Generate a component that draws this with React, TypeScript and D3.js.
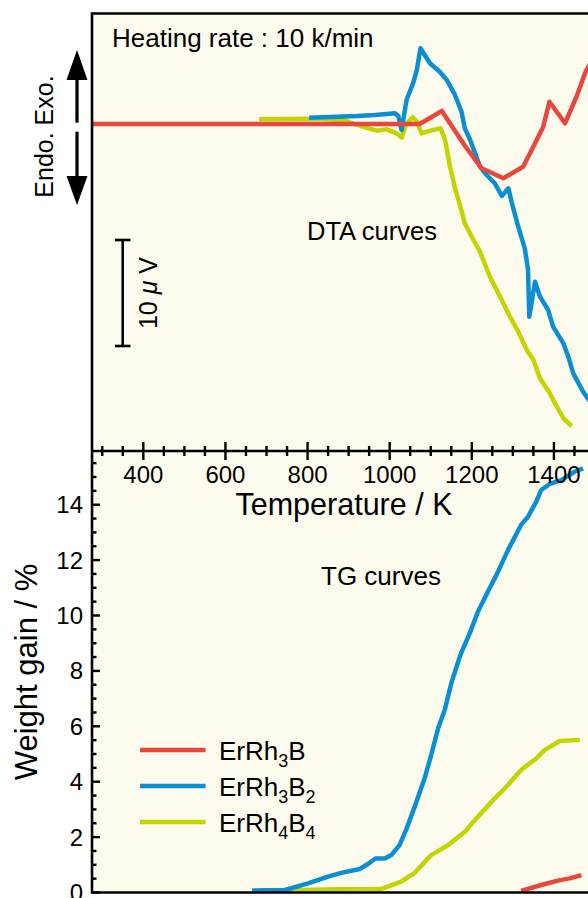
import React from "react";
import * as d3 from "d3";

// ---------- data ----------
// DTA curves (temperature K, signal in µV relative to baseline)
const dtaRedT = [275, 1073, 1127, 1179, 1224, 1277, 1325, 1354, 1374, 1389, 1427, 1455, 1477, 1500];
const dtaRedV = [0, 0, 1.23, -1.82, -4.18, -5.12, -4.03, -1.82, -0.25, 2.1, 0.07, 2.58, 4.93, 6.5];

const dtaBlueT = [804, 855, 920, 964, 1013, 1021, 1029, 1041, 1057, 1066, 1075, 1098, 1122, 1139, 1159, 1175, 1183, 1196, 1208, 1220, 1236, 1256, 1273, 1289, 1297, 1313, 1329, 1337, 1340, 1354, 1366, 1386, 1398, 1423, 1435, 1447, 1471, 1490];
const dtaBlueV = [0.59, 0.66, 0.75, 0.85, 1.01, 0.75, -0.57, 2.26, 3.84, 5.09, 7.14, 5.73, 4.93, 4.15, 2.74, 1.16, -0.41, -1.51, -2.76, -4.03, -4.81, -5.59, -6.79, -6.07, -7.36, -9.69, -11.73, -13.77, -18.18, -14.88, -16.29, -17.55, -19.12, -20.69, -21.95, -23.52, -25.25, -26.3];

const dtaGreenT = [682, 806, 887, 920, 968, 993, 1017, 1029, 1041, 1056, 1066, 1078, 1098, 1124, 1135, 1147, 1159, 1171, 1183, 1200, 1220, 1244, 1269, 1293, 1313, 1334, 1350, 1366, 1390, 1407, 1423, 1443];
const dtaGreenV = [0.44, 0.5, 0.38, -0.09, -0.63, -0.5, -0.88, -1.29, 0.07, 0.63, 0.22, -0.88, -0.63, -0.41, -1.51, -4.03, -6.04, -7.64, -9.37, -10.63, -12.05, -14.41, -16.29, -18.18, -19.59, -21.32, -22.26, -23.99, -25.41, -26.67, -27.76, -28.49];

// TG curves (temperature K, weight gain %)
const tgRedT = [1320, 1369, 1410, 1438, 1467];
const tgRedW = [0.06, 0.27, 0.43, 0.51, 0.63];

const tgBlueT = [665, 745, 801, 850, 882, 927, 947, 965, 988, 1004, 1024, 1040, 1061, 1085, 1101, 1118, 1134, 1150, 1168, 1174, 1195, 1215, 1239, 1262, 1288, 1320, 1337, 1357, 1369, 1390, 1418, 1450, 1471];
const tgBlueW = [0.07, 0.09, 0.33, 0.57, 0.71, 0.85, 1.03, 1.23, 1.23, 1.35, 1.71, 2.26, 3.1, 4.12, 4.96, 5.93, 6.59, 7.55, 8.39, 8.64, 9.36, 10.14, 10.86, 11.52, 12.36, 13.27, 13.57, 14.11, 14.53, 14.75, 14.89, 15.19, 15.31];

const tgGreenT = [685, 785, 874, 980, 1028, 1061, 1101, 1142, 1183, 1215, 1256, 1288, 1320, 1357, 1377, 1414, 1463];
const tgGreenW = [0.08, 0.09, 0.12, 0.13, 0.39, 0.71, 1.35, 1.71, 2.19, 2.74, 3.4, 3.88, 4.42, 4.84, 5.14, 5.47, 5.51];

const tempTicks = [400, 600, 800, 1000, 1200, 1400];
const weightTicks = [0, 2, 4, 6, 8, 10, 12, 14];

const seriesNames = ["ErRh", "ErRh", "ErRh"];
const seriesSub1 = ["3", "3", "4"];
const seriesB = ["B", "B", "B"];
const seriesSub2 = ["", "2", "4"];

const RED = "#e8473d";
const BLUE = "#0a8fd2";
const GREEN = "#c2d500";
const BG = "#fdfbee";
const FONT = "'Liberation Sans', Arial, Helvetica, sans-serif";

export default function App() {
  const W = 588;
  const H = 898;
  const left = 92;
  const top = 13.5;
  const mid = 451;
  const bottom = 892.5;

  const x = d3.scaleLinear().domain([275, 1483]).range([left, W]);
  const yD = d3.scaleLinear().domain([0, 10]).range([124, 18]);
  const yT = d3.scaleLinear().domain([0, 14]).range([bottom, 504.7]);

  const lineD = (ts: number[], vs: number[]) =>
    d3.line<number>().x((_, i) => x(ts[i])).y((_, i) => yD(vs[i]))(ts) || "";
  const lineT = (ts: number[], vs: number[]) =>
    d3.line<number>().x((_, i) => x(ts[i])).y((_, i) => yT(vs[i]))(ts) || "";

  const minorT = d3.range(300, 1451, 50).filter((t) => t % 200 !== 0);
  const minorW = d3.range(0.5, 15.6, 0.5).filter((w) => w % 2 !== 0);

  const legendColors = [RED, BLUE, GREEN];
  const legendY = [750, 786, 822];

  const barTop = 240;
  const barLen = yD(0) - yD(10);

  return (
    <svg
      width={W}
      height={H}
      style={{ position: "absolute", left: 0, top: 0, background: "#fff" }}
      fontFamily={FONT}
    >
      <defs>
        <clipPath id="clipTop">
          <rect x={left} y={top} width={W - left} height={mid - top} />
        </clipPath>
        <clipPath id="clipBot">
          <rect x={left} y={mid} width={W - left} height={bottom - mid} />
        </clipPath>
      </defs>
      <rect x={left} y={top} width={W - left} height={bottom - top} fill={BG} />

      {/* DTA curves */}
      <g clipPath="url(#clipTop)" fill="none" strokeWidth={4.5} strokeLinejoin="round">
        <path d={lineD(dtaGreenT, dtaGreenV)} stroke={GREEN} />
        <path d={lineD(dtaBlueT, dtaBlueV)} stroke={BLUE} />
        <path d={lineD(dtaRedT, dtaRedV)} stroke={RED} />
      </g>

      {/* TG curves */}
      <g clipPath="url(#clipBot)" fill="none" strokeWidth={4.5} strokeLinejoin="round">
        <path d={lineT(tgGreenT, tgGreenW)} stroke={GREEN} />
        <path d={lineT(tgBlueT, tgBlueW)} stroke={BLUE} />
        <path d={lineT(tgRedT, tgRedW)} stroke={RED} />
      </g>

      {/* frame */}
      <g stroke="#000" strokeWidth={2.6} fill="none">
        <line x1={left} x2={W} y1={top} y2={top} />
        <line x1={left} x2={left} y1={top - 1.3} y2={bottom + 1.3} />
        <line x1={left} x2={W} y1={mid} y2={mid} />
        <line x1={left} x2={W} y1={bottom} y2={bottom} />
      </g>

      {/* temperature ticks */}
      <g stroke="#000" strokeWidth={2.4}>
        {tempTicks.map((t) => (
          <line key={"M" + t} x1={x(t)} x2={x(t)} y1={mid - 9} y2={mid + 9} />
        ))}
        {minorT.map((t) => (
          <line key={"m" + t} x1={x(t)} x2={x(t)} y1={mid - 5} y2={mid + 5} />
        ))}
      </g>
      <g fontSize={24} textAnchor="middle" fill="#000">
        {tempTicks.map((t) => (
          <text key={t} x={x(t)} y={483}>
            {t}
          </text>
        ))}
      </g>
      <text x={344} y={515} fontSize={30.5} textAnchor="middle" fill="#000">
        Temperature / K
      </text>

      {/* weight ticks */}
      <g stroke="#000" strokeWidth={2.4}>
        {weightTicks.map((w) => (
          <line key={"M" + w} x1={left} x2={left + 8} y1={yT(w)} y2={yT(w)} />
        ))}
        {minorW.map((w) => (
          <line key={"m" + w} x1={left} x2={left + 4.5} y1={yT(w)} y2={yT(w)} />
        ))}
      </g>
      <g fontSize={24} textAnchor="end" fill="#000">
        {weightTicks.map((w) => (
          <text key={w} x={83} y={yT(w) + 8.5}>
            {w}
          </text>
        ))}
      </g>
      <text
        transform={`translate(37,672) rotate(-90)`}
        fontSize={31}
        textAnchor="middle"
        fill="#000"
      >
        Weight gain / %
      </text>

      {/* top annotations */}
      <text x={112} y={46.5} fontSize={26} fill="#000">
        Heating rate : 10 k/min
      </text>
      <text x={307} y={240} fontSize={25.5} fill="#000">
        DTA curves
      </text>
      <text x={321} y={585} fontSize={26} fill="#000">
        TG curves
      </text>

      {/* Endo / Exo */}
      <text
        transform={`translate(53,136.5) rotate(-90)`}
        fontSize={25}
        textAnchor="middle"
        fill="#000"
      >
        Endo. Exo.
      </text>
      <g fill="#000" stroke="#000">
        <line x1={77} x2={77} y1={78} y2={122.7} strokeWidth={3.2} />
        <path d="M77,50 L66.5,80 L87.5,80 Z" stroke="none" />
        <line x1={77} x2={77} y1={131.7} y2={178} strokeWidth={3.2} />
        <path d="M77,205 L66.5,176 L87.5,176 Z" stroke="none" />
      </g>

      {/* 10 µV scale bar */}
      <g stroke="#000" strokeWidth={2.6}>
        <line x1={122.7} x2={122.7} y1={barTop} y2={barTop + barLen} />
        <line x1={115} x2={130.5} y1={barTop} y2={barTop} />
        <line x1={115} x2={130.5} y1={barTop + barLen} y2={barTop + barLen} />
      </g>
      <text
        transform={`translate(157,293) rotate(-90)`}
        fontSize={25}
        textAnchor="middle"
        fill="#000"
      >
        10 <tspan fontStyle="italic">μ</tspan> V
      </text>

      {/* legend */}
      {legendColors.map((c, i) => (
        <g key={i}>
          <line x1={140} x2={205.5} y1={legendY[i]} y2={legendY[i]} stroke={c} strokeWidth={4.5} />
          <text x={219} y={legendY[i] + 10} fontSize={26} fill="#000">
            {seriesNames[i]}
            <tspan fontSize={18} dy={7}>
              {seriesSub1[i]}
            </tspan>
            <tspan dy={-7}>{seriesB[i]}</tspan>
            {seriesSub2[i] ? (
              <tspan fontSize={18} dy={7}>
                {seriesSub2[i]}
              </tspan>
            ) : null}
          </text>
        </g>
      ))}
    </svg>
  );
}
